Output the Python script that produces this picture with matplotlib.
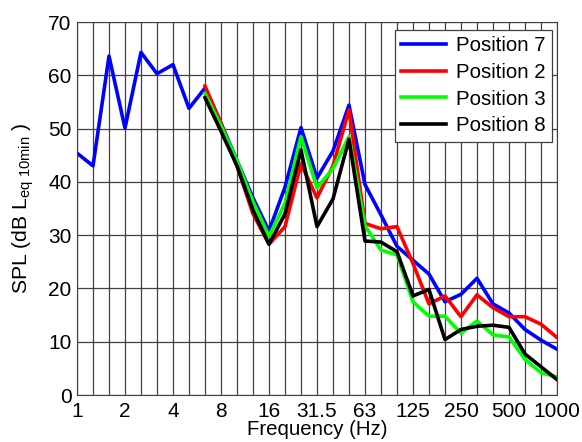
import numpy as np
import matplotlib
matplotlib.use('Agg')
import matplotlib.pyplot as plt

plt.rcParams['font.family'] = ['Liberation Sans', 'DejaVu Sans']
plt.rcParams['mathtext.fontset'] = 'custom'
plt.rcParams['mathtext.rm'] = 'Liberation Sans'
plt.rcParams['mathtext.it'] = 'Liberation Sans:italic'

# 1/3 octave band centre frequencies (Hz)
bands = ['1', '1.25', '1.6', '2', '2.5', '3.15', '4', '5', '6.3', '8',
         '10', '12.5', '16', '20', '25', '31.5', '40', '50', '63', '80',
         '100', '125', '160', '200', '250', '315', '400', '500', '630', '800', '1000']
labelled = ['1', '2', '4', '8', '16', '31.5', '63', '125', '250', '500', '1000']

# SPL per band, dB Leq 10min
pos7 = [45.4, 43.0, 63.6, 50.1, 64.3, 60.3, 62.0, 53.8, 57.6, 51.0,
        44.0, 37.0, 30.8, 39.0, 50.2, 40.7, 45.8, 54.4, 39.5, 33.8,
        27.9, 25.3, 22.7, 17.5, 18.9, 21.9, 17.1, 15.4, 12.3, 10.3, 8.6]
# the other positions start at 6.3 Hz
pos2 = [58.0, 51.0, 43.0, 34.0, 28.3, 31.6, 43.4, 37.0, 43.0, 53.5,
        32.2, 31.2, 31.6, 24.7, 17.1, 18.6, 14.7, 18.8, 16.4, 14.7,
        14.7, 13.3, 10.8]
pos3 = [56.6, 50.5, 44.0, 36.3, 29.8, 36.0, 48.5, 38.9, 42.5, 48.5,
        31.8, 27.2, 26.3, 17.5, 14.8, 14.8, 11.6, 13.9, 11.3, 10.9,
        6.7, 4.2, 3.4]
pos8 = [55.8, 49.5, 43.0, 34.7, 28.3, 34.0, 46.0, 31.6, 36.8, 48.0,
        28.9, 28.7, 26.9, 18.6, 19.8, 10.4, 12.3, 12.9, 13.1, 12.7,
        7.7, 5.3, 2.9]

x = np.arange(len(bands))
start = bands.index('6.3')

fig = plt.figure(figsize=(5.82, 4.42), dpi=100)
ax = fig.add_axes([0.1323, 0.1063, 0.8247, 0.8439])

ax.plot(x, pos7, color='#0000ff', lw=2.6, label='Position 7')
ax.plot(x[start:], pos2, color='#ff0000', lw=2.6, label='Position 2')
ax.plot(x[start:], pos3, color='#00ff00', lw=2.6, label='Position 3')
ax.plot(x[start:], pos8, color='#000000', lw=2.6, label='Position 8')

ax.set_xlim(0, len(bands) - 1)
ax.set_ylim(0, 70)
ax.set_xticks(x, minor=True)
ax.set_xticks([bands.index(b) for b in labelled])
ax.set_xticklabels(labelled)
ax.set_yticks(np.arange(0, 71, 10))
ax.tick_params(which='both', length=0, labelsize=15)
ax.tick_params(axis='x', pad=5)
ax.tick_params(axis='y', pad=4)

ax.grid(True, which='both', axis='x', color='#404040', lw=0.9)
ax.grid(True, which='major', axis='y', color='#404040', lw=0.9)
for s in ax.spines.values():
    s.set_color('#404040')

ax.set_xlabel('Frequency (Hz)', fontsize=14.7)
ax.xaxis.set_label_coords(0.5, -0.066)
ax.set_ylabel(r'SPL (dB L$_{\mathrm{eq\ 10min}}$ )', fontsize=15.2)
ax.yaxis.set_label_coords(-0.086, 0.5)

leg = ax.legend(loc='upper right', bbox_to_anchor=(0.9896, 0.9786),
                fontsize=14.7, handlelength=2.2, borderaxespad=0,
                labelspacing=0.38, fancybox=False, framealpha=1,
                edgecolor='#404040', borderpad=0.3, handletextpad=0.5)
leg.get_frame().set_linewidth(0.9)

fig.savefig('out.png', dpi=100)
